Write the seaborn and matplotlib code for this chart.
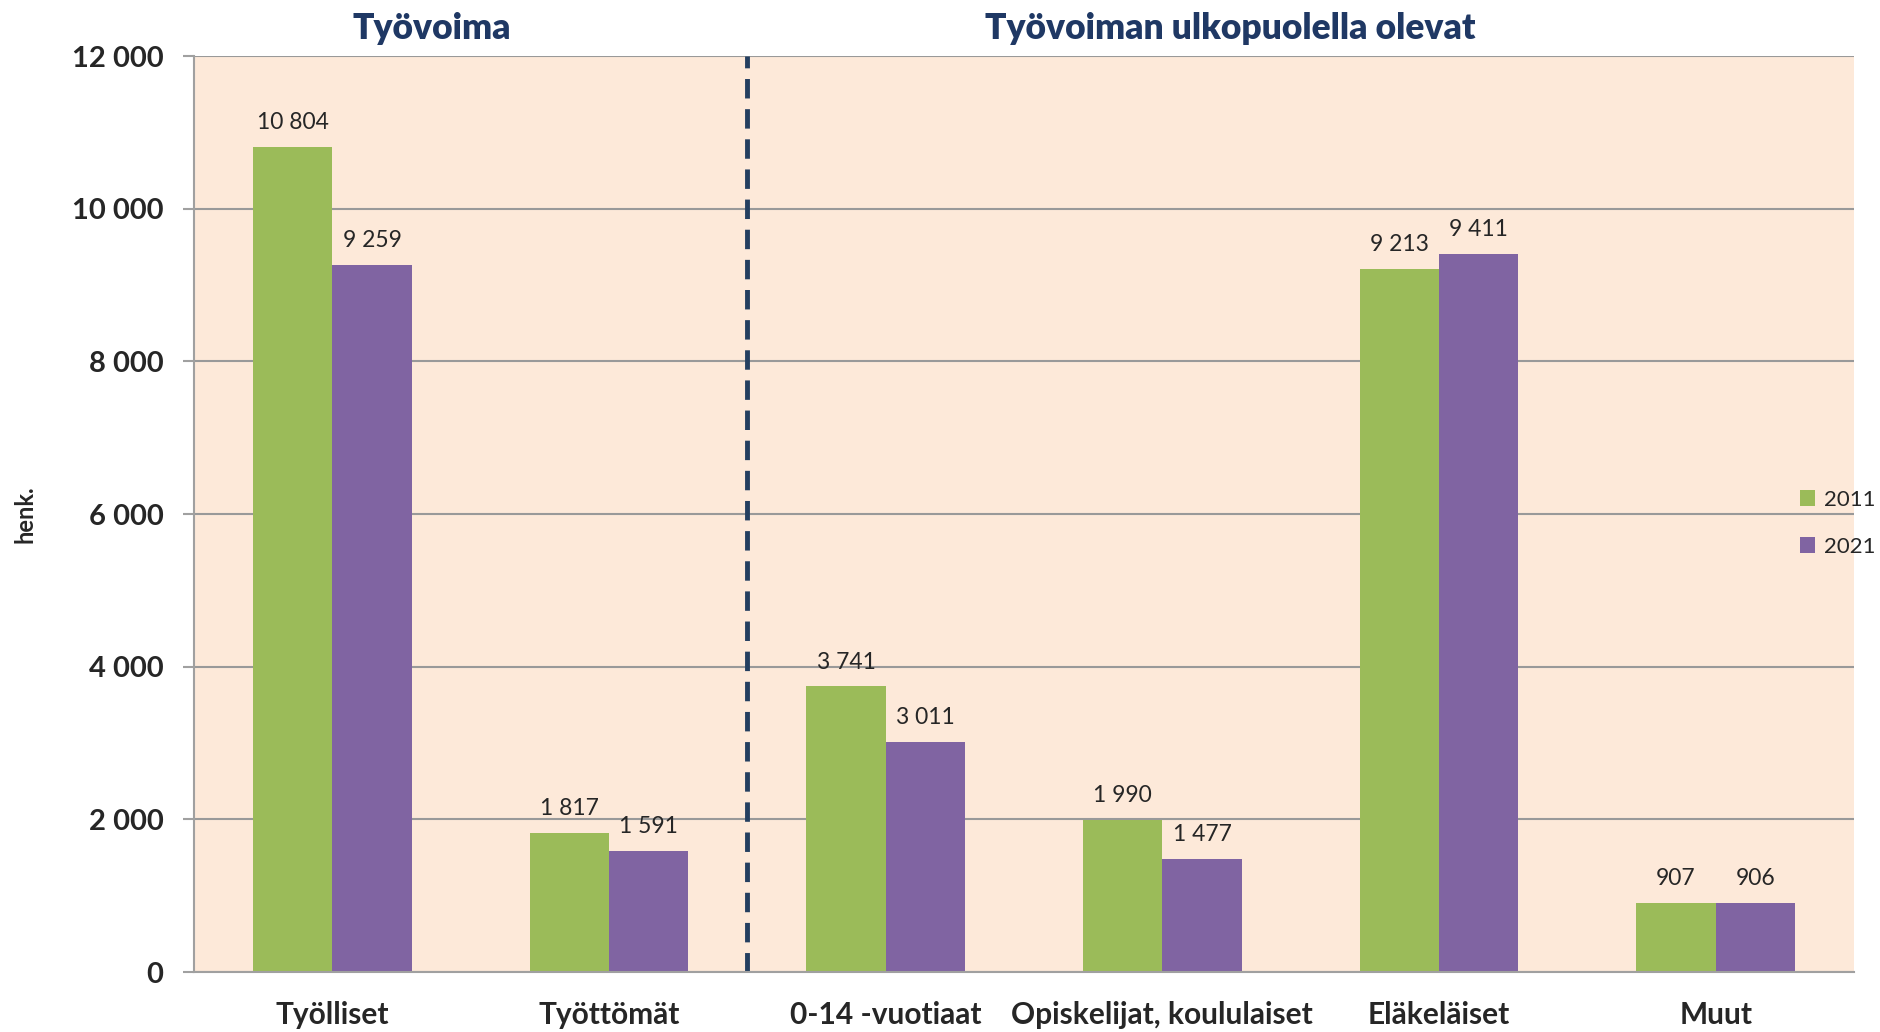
import numpy as np
import matplotlib.pyplot as plt
import matplotlib.ticker as mticker
import seaborn as sns
import pandas as pd

# Data
categories = ["Työlliset", "Työttömät", "0-14 -vuotiaat", "Opiskelijat, koululaiset", "Eläkeläiset", "Muut"]
years = ["2011", "2021"]
values_2011 = [10804, 1817, 3741, 1990, 9213, 907]
values_2021 = [9259, 1591, 3011, 1477, 9411, 906]
group_titles = ["Työvoima", "Työvoiman ulkopuolella olevat"]
yticks = [0, 2000, 4000, 6000, 8000, 10000, 12000]

sns.set_theme(style="white")
plt.rcParams['font.family'] = ['Lato', 'DejaVu Sans']

df = pd.DataFrame({
    "Luokka": categories * 2,
    "Vuosi": [years[0]] * len(categories) + [years[1]] * len(categories),
    "henk.": values_2011 + values_2021,
})

fig = plt.figure(figsize=(18.81, 10.32), dpi=100)
ax = fig.add_axes([0.1031, 0.0581, 0.8826, 0.8876])
ax.set_facecolor("#FDE9D9")

sns.barplot(data=df, x="Luokka", y="henk.", hue="Vuosi", order=categories,
            palette=["#9BBB59", "#8064A2"], width=0.574, gap=0,
            saturation=1, ax=ax, edgecolor="none")

fmt = lambda v: f"{int(round(v)):,}".replace(",", " ")
for cont in ax.containers:
    ax.bar_label(cont, labels=[fmt(b.get_height()) for b in cont], padding=10,
                 fontsize=16.5)

ax.set_xlim(-0.5, len(categories) - 0.5)
ax.set_ylim(0, 12000)
ax.set_yticks(yticks)
ax.yaxis.set_major_formatter(mticker.FuncFormatter(lambda v, p: fmt(v)))
ax.yaxis.grid(True, color="#999999", lw=1.5)
ax.set_axisbelow(True)

ax.set_xticks(range(len(categories)))
ax.set_xticklabels(categories)
ax.set_xticks(np.arange(-0.5, len(categories)), minor=True)
ax.tick_params(axis="x", which="major", length=0, pad=21, labelsize=21.5)
ax.tick_params(axis="x", which="minor", length=10, width=1.5, color="#A0A0A0")
ax.tick_params(axis="y", length=8, width=1.5, color="#A0A0A0", labelsize=21, pad=14, left=True)
for lab in ax.get_xticklabels() + ax.get_yticklabels():
    lab.set_fontweight("bold")

for s in ["top", "right"]:
    ax.spines[s].set_visible(False)
for s in ["left", "bottom"]:
    ax.spines[s].set_color("#A0A0A0")
    ax.spines[s].set_linewidth(1.5)

ax.set_xlabel("")
ax.set_ylabel("henk.", fontsize=17, fontweight="bold")
ax.yaxis.set_label_coords(-0.095, 0.5)

# Separator between groups
ax.axvline(1.5, color="#243F60", lw=3.5, dashes=(4, 2.2))

ax.text(0.143, 1.03, group_titles[0], transform=ax.transAxes, ha="center", va="center",
        fontsize=25.5, fontweight="heavy", color="#1F3864")
ax.text(0.624, 1.03, group_titles[1], transform=ax.transAxes, ha="center", va="center",
        fontsize=25.5, fontweight="heavy", color="#1F3864")

ax.legend(loc="center left", bbox_to_anchor=(0.962, 0.49), frameon=False,
          fontsize=16, handlelength=0.7, handleheight=0.7, handletextpad=0.4,
          labelspacing=1.2, borderaxespad=0)

fig.savefig("out.png", dpi=100)
